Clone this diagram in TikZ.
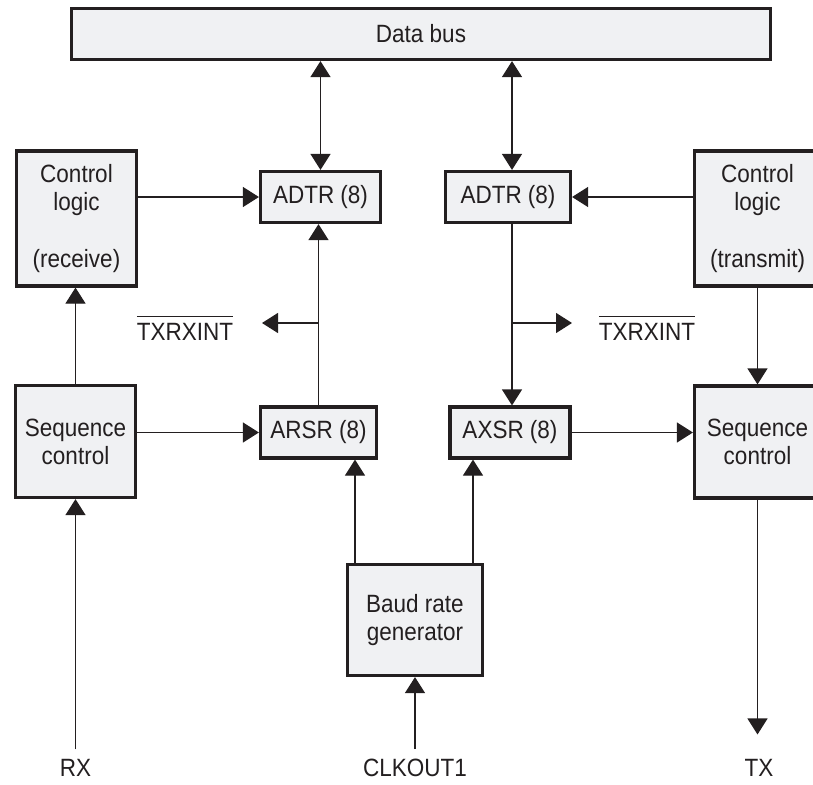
\documentclass[tikz,border=0pt]{standalone}
\usepackage{fontspec}
\setmainfont{Liberation Sans}[FakeStretch=0.9]
\usepackage{tikz}
\usetikzlibrary{positioning, calc, arrows.meta}
\definecolor{boxfill}{RGB}{240,241,243}
\definecolor{ink}{RGB}{35,31,32}
% active-low signal name with a bar above
\newcommand{\notsig}[1]{\vbox{\hrule height 1.1pt\kern 6.5pt\hbox{#1}}}

\begin{document}
\begin{tikzpicture}[x=1pt, y=-1pt, ->, >={Triangle[length=16pt,width=20pt]}, ink, line width=1.2pt,
    every node/.style={font=\fontsize{25pt}{28pt}\selectfont, text=ink},
    block/.style={rectangle, draw=ink, fill=boxfill, line width=3.2pt, inner sep=0pt, align=center},
    regbox/.style={block, minimum width=120pt, minimum height=51pt},
    ctlbox/.style={block, minimum width=120pt, minimum height=135pt},
    seqbox/.style={block, minimum width=120pt, minimum height=112pt}]
    \useasboundingbox (0,0) rectangle (813,784);

    % Data bus
    \node[block, minimum width=699pt, minimum height=51pt] (bus) at (421,34) {Data bus};

    % Receive side
    \node[regbox] (adtrL) at (320.5,197)   {ADTR (8)};
    \node[regbox, minimum width=116pt] (arsr) at (318.5,432.5) {ARSR (8)};
    \node[ctlbox] (ctlL)  at (76.5,218.5)  {Control\\logic\\[29pt](receive)};
    \node[seqbox] (seqL)  at (75.5,441.5)  {Sequence\\control};

    % Transmit side (boxes run past the right edge)
    \node[regbox, minimum width=125pt] (adtrR) at (508,197) {ADTR (8)};
    \node[regbox] (axsr)  at (510,432.5)   {AXSR (8)};
    \node[ctlbox, minimum width=132pt, text width=126pt, xshift=0pt] (ctlR) at (760.5,218.5) {\hspace*{-6pt}Control\\\hspace*{-6pt}logic\\[29pt]\hspace*{-6pt}(transmit)};
    \node[seqbox, minimum width=132pt, text width=126pt] (seqR) at (760.5,442) {\hspace*{-6pt}Sequence\\\hspace*{-6pt}control};

    % Baud rate generator
    \node[block, minimum width=135pt, minimum height=111pt] (baud) at (415,620) {Baud rate\\generator};

    % Pins
    \node (rx)  at (75.5,768) {RX};
    \node (clk) at (415,768)  {CLKOUT1};
    \node (tx)  at (759,768)  {TX};

    % Interrupt outputs
    \node (txL) at (185,328) {\notsig{TXRXINT}};
    \node (txR) at (647,328) {\notsig{TXRXINT}};
    \coordinate (tapL) at (arsr.north |- 0,323);
    \coordinate (endL) at (262,323);
    \coordinate (tapR) at (512,323);
    \coordinate (endR) at (572,323);

    % Bus transfers
    \draw[<->] (adtrL.north |- bus.south) -- (adtrL.north);
    \draw[<->] ([xshift=4pt]adtrR.north |- bus.south) -- ([xshift=4pt]adtrR.north);

    % Control and data paths
    \draw (adtrL.west -| ctlL.east) -- (adtrL.west);
    \draw (adtrR.east -| ctlR.west) -- (adtrR.east);
    \draw (seqL.north) -- (seqL.north |- ctlL.south);
    \draw ([xshift=-3pt]ctlR.south) -- ([xshift=-3pt]seqR.north);
    \draw (arsr.west -| seqL.east) -- (arsr.west);
    \draw (axsr.east) -- (axsr.east -| seqR.west);
    \draw (arsr.north) -- (arsr.north |- adtrL.south);
    \draw ([xshift=4pt]adtrR.south) -- ([xshift=4pt]adtrR.south |- axsr.north);
    \draw (tapL) -- (endL);
    \draw (tapR) -- (endR);

    % Clocks
    \draw ([xshift=-60pt]baud.north) -- ([xshift=-60pt]baud.north |- arsr.south);
    \draw ([xshift=58pt]baud.north) -- ([xshift=58pt]baud.north |- axsr.south);

    % Pin connections
    \draw[shorten <=6pt] (rx.north) -- (seqL.south);
    \draw[shorten <=6pt] (clk.north) -- (baud.south);
    \draw[shorten >=21pt] ([xshift=-3pt]seqR.south) -- ([xshift=-3pt]seqR.south |- tx.north);
\end{tikzpicture}
\end{document}
